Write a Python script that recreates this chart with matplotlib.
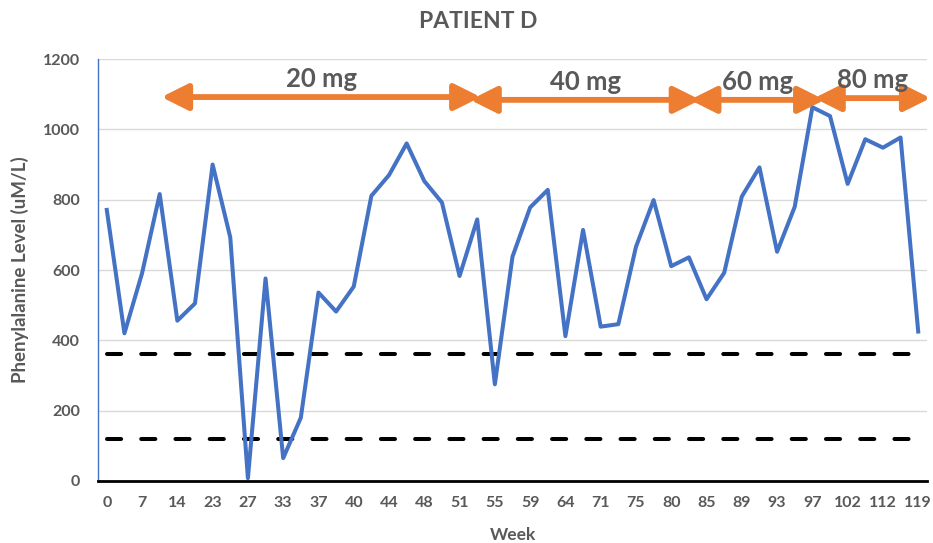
import matplotlib
matplotlib.use("Agg")
import matplotlib.pyplot as plt

plt.rcParams['font.family'] = ['Lato', 'DejaVu Sans']
plt.rcParams['font.weight'] = 'bold'

# phenylalanine level per visit (uM/L)
phe_levels = [771, 420, 591, 816, 456, 505, 900, 693, 8, 576,
              65, 180, 536, 482, 553, 811, 870, 960, 853, 792,
              583, 744, 275, 638, 778, 828, 412, 714, 439, 446,
              666, 799, 611, 636, 517, 592, 809, 892, 652, 780,
              1063, 1038, 845, 972, 948, 977, 425]

# week labels shown on every second visit
week_labels = ["0", "7", "14", "23", "27", "33", "37", "40", "44", "48",
               "51", "55", "59", "64", "71", "75", "80", "85", "89", "93",
               "97", "102", "112", "119"]

upper_limit = 360
lower_limit = 120

# dose periods: label, start, end (visit index), arrow level
dose_names = ["20 mg", "40 mg", "60 mg", "80 mg"]
dose_start = [3.4, 20.9, 33.35, 40.4]
dose_end = [20.9, 33.35, 40.4, 46.4]
dose_level = [1092, 1084, 1084, 1089]

blue = "#4472C4"
orange = "#ED7D31"
grey = "#595959"

x = list(range(len(phe_levels)))

fig = plt.figure(figsize=(9.33, 5.43), dpi=100)
ax = fig.add_axes([0.105, 0.1142, 0.8886, 0.777])

# -------- reference limits --------
for lim in [upper_limit, lower_limit]:
    ax.plot(x, [lim] * len(x), color="black", lw=2.9,
            linestyle=(0, (3.5, 5)), dash_capstyle="round", zorder=3)

# -------- patient series --------
ax.plot(x, phe_levels, color=blue, lw=2.9, zorder=4)

# -------- dose arrows --------
ext = 0.3  # the arrow patch stops a little short of its end points
for name, x0, x1, yv in zip(dose_names, dose_start, dose_end, dose_level):
    ax.annotate("", xy=(x1 + ext, yv), xytext=(x0 - ext, yv),
                arrowprops=dict(arrowstyle="<|-|>,head_length=0.8,head_width=0.4",
                                color=orange, lw=4.2, mutation_scale=20,
                                shrinkA=0, shrinkB=0),
                annotation_clip=False, zorder=5)
    ax.text((x0 + x1) / 2, yv + 52, name, ha="center", va="center",
            fontsize=18.5, fontweight="bold", color=grey, zorder=6)

ax.set_xlim(-0.5, len(x) - 0.5)
ax.set_ylim(0, 1200)
ax.set_yticks(range(0, 1201, 200))
ax.set_xticks(x[::2])
ax.set_xticklabels(week_labels)
ax.tick_params(axis="both", length=0, labelsize=11.5, labelcolor=grey)
ax.tick_params(axis="y", pad=13)
ax.tick_params(axis="x", pad=11)

ax.grid(axis="y", color="#D9D9D9", lw=1)
ax.set_axisbelow(True)
for side in ["top", "right"]:
    ax.spines[side].set_visible(False)
ax.spines["left"].set_color(blue)
ax.spines["left"].set_linewidth(1)
ax.spines["bottom"].set_color("black")
ax.spines["bottom"].set_linewidth(2)
ax.spines["bottom"].set_zorder(5)

ax.set_xlabel("Week", fontsize=12.5, fontweight="bold", color=grey, labelpad=12)
ax.set_ylabel("Phenylalanine Level (uM/L)", fontsize=13.5, fontweight="bold",
              color=grey, labelpad=10)

fig.text(0.512, 1 - 22 / 543, "PATIENT D", ha="center", va="center",
         fontsize=16.5, fontweight="bold", color=grey)

fig.savefig("out.png", dpi=100)
